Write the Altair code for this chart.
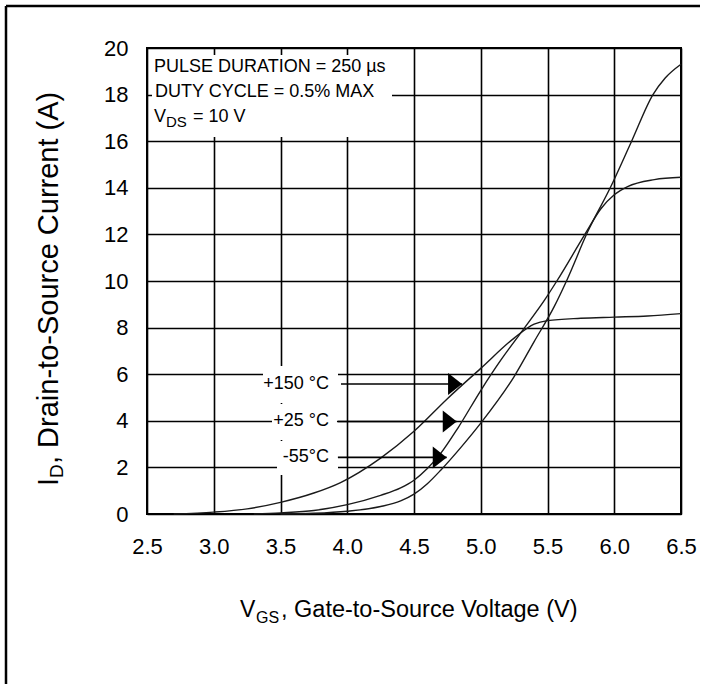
import altair as alt
import pandas as pd

# ---------------- data ----------------
series_names = ["+150 °C", "+25 °C", "-55°C"]

vgs_150 = [2.7, 3.0, 3.25, 3.5, 3.75, 3.95, 4.25, 4.5, 4.75, 5.0, 5.25, 5.4, 5.5, 5.75, 6.0, 6.25, 6.5]
id_150 = [0.0, 0.08, 0.22, 0.5, 0.9, 1.35, 2.4, 3.55, 4.95, 6.25, 7.55, 8.15, 8.3, 8.4, 8.45, 8.5, 8.6]

vgs_25 = [3.3, 3.5, 3.75, 4.0, 4.25, 4.4, 4.5, 4.6, 4.7, 4.83, 5.0, 5.15, 5.29, 5.48, 5.57, 5.78, 5.9, 6.0, 6.1, 6.3, 6.5]
id_25 = [0.0, 0.05, 0.15, 0.4, 0.8, 1.12, 1.45, 1.95, 2.6, 3.7, 5.3, 6.6, 7.7, 9.2, 10.0, 12.0, 13.1, 13.7, 14.05, 14.35, 14.45]

vgs_m55 = [3.5, 3.75, 4.0, 4.25, 4.4, 4.5, 4.6, 4.7, 4.85, 5.0, 5.25, 5.4, 5.55, 5.65, 5.8, 5.97, 6.13, 6.29, 6.38, 6.5]
id_m55 = [0.0, 0.03, 0.12, 0.32, 0.56, 0.85, 1.3, 1.88, 2.85, 3.9, 5.9, 7.4, 8.9, 10.1, 12.1, 14.0, 16.0, 18.0, 18.7, 19.3]

x_ticks = [2.5, 3.0, 3.5, 4.0, 4.5, 5.0, 5.5, 6.0, 6.5]
y_ticks = [0, 2, 4, 6, 8, 10, 12, 14, 16, 18, 20]

note_line1 = "PULSE DURATION = 250 µs"
note_line2 = "DUTY CYCLE = 0.5% MAX"
note_v = "V"
note_ds = "DS"
note_rest = "= 10 V"

xtitle_v, xtitle_sub, xtitle_rest = "V", "GS", ", Gate-to-Source Voltage (V)"
ytitle_i, ytitle_sub, ytitle_rest = "I", "D", ", Drain-to-Source Current (A)"

# arrow tips (where the arrows touch the curves) and arrow start, in data units
arrow_tip_v = [4.86, 4.82, 4.745]
arrow_i = [5.58, 3.97, 2.43]
arrow_start_v = [3.953, 3.923, 3.93]

# ---------------- build tables ----------------
rows = []
for name, vs, ids in zip(series_names, [vgs_150, vgs_25, vgs_m55], [id_150, id_25, id_m55]):
    for v, i in zip(vs, ids):
        rows.append({"VGS": v, "ID": i, "series": name})
curves = pd.DataFrame(rows)
arrows = pd.DataFrame({"label": series_names, "v_tip": arrow_tip_v,
                       "v_start": arrow_start_v, "i": arrow_i})

FONT = "Liberation Sans, Arial, sans-serif"
W, H = 534, 466

xs = alt.Scale(domain=[2.5, 6.5], nice=False, zero=False)
ys = alt.Scale(domain=[0, 20], nice=False)

one = pd.DataFrame({"k": [0]})


def txt(t, x, y, size, align="left", baseline="alphabetic", angle=0):
    return alt.Chart(pd.DataFrame({"t": [t]})).mark_text(
        align=align, baseline=baseline, fontSize=size, font=FONT, angle=angle, color="black"
    ).encode(x=alt.value(x), y=alt.value(y), text="t:N")


def box(x1, x2, y1, y2):
    return alt.Chart(one).mark_rect(fill="white").encode(
        x=alt.value(x1), x2=alt.value(x2), y=alt.value(y1), y2=alt.value(y2))


lines = alt.Chart(curves).mark_line(color="#1a1a1a", strokeWidth=1.4, interpolate="monotone").encode(
    x=alt.X("VGS:Q", scale=xs,
            axis=alt.Axis(values=x_ticks, format=".1f", title=None, grid=True, ticks=False, tickSize=0,
                          domain=False, labelPadding=22, labelFontSize=22, labelFont=FONT,
                          labelColor="black", gridColor="black", gridWidth=1.6, gridOpacity=1,
                          labelFlush=False)),
    y=alt.Y("ID:Q", scale=ys,
            axis=alt.Axis(values=y_ticks, format="d", title=None, grid=True, ticks=False, tickSize=0,
                          domain=False, labelPadding=19, labelFontSize=22, labelFont=FONT,
                          labelColor="black", gridColor="black", gridWidth=1.6, gridOpacity=1,
                          labelFlush=False)),
    detail="series:N",
)

arrow_lines = alt.Chart(arrows).mark_rule(color="black", strokeWidth=1.6).encode(
    x=alt.X("v_start:Q", scale=xs), x2="v_tip:Q", y=alt.Y("i:Q", scale=ys))
arrow_heads = alt.Chart(arrows).mark_point(
    shape="M-1.27,-1L0,0L-1.27,1Z", filled=True, size=484, color="black", opacity=1, strokeWidth=0
).encode(x=alt.X("v_tip:Q", scale=xs), y=alt.Y("i:Q", scale=ys))
arrow_labels = alt.Chart(arrows).mark_text(
    align="right", baseline="middle", fontSize=18, font=FONT, color="black"
).encode(x=alt.value(182), y=alt.Y("i:Q", scale=ys), text="label:N")

layers = [
    lines,
    # white backgrounds under the annotations
    box(5, 245, 7, 89),
    box(116, 191, 318, 355),
    box(125, 191, 356, 392),
    box(130, 191, 393, 427),
    arrow_lines,
    arrow_heads,
    arrow_labels,
    # note box text
    txt(note_line1, 7, 24, 18),
    txt(note_line2, 8, 49, 18),
    txt(note_v, 7, 74, 18),
    txt(note_ds, 19, 79, 15),
    txt(note_rest, 46, 74, 18),
    # x title
    txt(xtitle_v, 93, 569, 23),
    txt(xtitle_sub, 109, 575, 16),
    txt(xtitle_rest, 134, 569, 23.5),
    # y title (rotated)
    txt(ytitle_i, -89, 438, 29, angle=270),
    txt(ytitle_sub, -84, 430, 19, angle=270),
    txt(ytitle_rest, -89, 416, 29, angle=270),
    # outer frame (top and left edges)
    alt.Chart(one).mark_rule(color="black", strokeWidth=2.5).encode(
        x=alt.value(-141), x2=alt.value(553), y=alt.value(-42)),
    alt.Chart(one).mark_rule(color="black", strokeWidth=2.5).encode(
        x=alt.value(-141), y=alt.value(-42), y2=alt.value(640)),
]

chart = alt.layer(*layers).properties(
    width=W, height=H,
    autosize=alt.AutoSizeParams(type="none"),
    padding={"left": 147, "top": 48, "right": 25, "bottom": 170},
    background="white",
).configure_view(stroke="black", strokeWidth=2)

chart.save("out.html", embed_options={"renderer": "svg", "actions": False})
